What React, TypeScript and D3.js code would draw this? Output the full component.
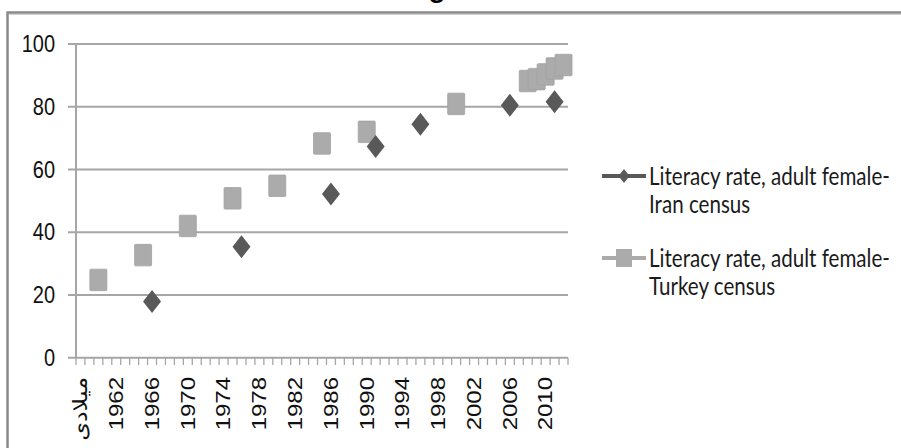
import * as d3 from "d3";

// categories on the x axis (first one is the sheet's header cell)
const categories = [
  "میلادی", "1959", "1960", "1961", "1962", "1963", "1964", "1965", "1966", "1967",
  "1968", "1969", "1970", "1971", "1972", "1973", "1974", "1975", "1976", "1977",
  "1978", "1979", "1980", "1981", "1982", "1983", "1984", "1985", "1986", "1987",
  "1988", "1989", "1990", "1991", "1992", "1993", "1994", "1995", "1996", "1997",
  "1998", "1999", "2000", "2001", "2002", "2003", "2004", "2005", "2006", "2007",
  "2008", "2009", "2010", "2011", "2012",
];
const xTickLabels = [
  "میلادی", "1962", "1966", "1970", "1974", "1978", "1982",
  "1986", "1990", "1994", "1998", "2002", "2006", "2010",
];
const yTicks = [0, 20, 40, 60, 80, 100];

const iranYears = ["1966", "1976", "1986", "1991", "1996", "2006", "2011"];
const iranValues = [17.9, 35.4, 52.2, 67.3, 74.4, 80.5, 81.6];

const turkeyYears = [
  "1960", "1965", "1970", "1975", "1980", "1985", "1990", "2000",
  "2008", "2009", "2010", "2011", "2012",
];
const turkeyValues = [24.8, 32.7, 42.0, 50.8, 54.8, 68.3, 72.0, 80.9, 88.2, 88.8, 90.3, 92.2, 93.3];

const legendLines = [
  ["Literacy rate, adult female-", "Iran  census"],
  ["Literacy rate, adult female-", "Turkey census"],
];

const W = 901;
const H = 448;
const left = 76;
const right = 568;
const top = 44;
const bottom = 357.7;

const dark = "#595959";
const light = "#ababab";
const grid = "#a6a6a6";
const axisFont = "Liberation Sans, Arial, DejaVu Sans, sans-serif";
const legendFont = "Lato, Open Sans, sans-serif";

const diamond = "M0,-11.5L9,0L0,11.5L-9,0Z";

export default function App() {
  const x = d3.scaleBand(categories, [left, right]).padding(0);
  const cx = (c: string) => (x(c) ?? 0) + x.bandwidth() / 2;
  const y = d3.scaleLinear([0, 100], [bottom, top]);

  return (
    <div style={{ position: "fixed", left: 0, top: 0 }}>
      <svg width={W} height={H} style={{ display: "block", background: "#fff" }}>
        {/* title sits above the crop, only a descender shows */}
        <text x={437} y={-3} textAnchor="middle" fontFamily={axisFont} fontSize={28} fontWeight="bold" fill="#000">
          g
        </text>

        {/* outer chart frame */}
        <rect x={7.5} y={12.5} width={1000} height={1000} fill="none" stroke="#8a8a8a" strokeWidth={2.5} />
        <line x1={9} x2={W} y1={14.5} y2={14.5} stroke="#d0d0d0" strokeWidth={1} />

        {/* gridlines + y ticks */}
        {yTicks.map((t) => (
          <g key={t}>
            <line x1={68} x2={right} y1={y(t)} y2={y(t)} stroke={grid} strokeWidth={2} />
            <text
              transform={`translate(55,${y(t)}) scale(1,1.2)`}
              textAnchor="end"
              dominantBaseline="central"
              fontFamily={axisFont}
              fontSize={20}
              fill="#111"
            >
              {t}
            </text>
          </g>
        ))}

        {/* y axis line */}
        <line x1={left} x2={left} y1={top} y2={bottom} stroke={grid} strokeWidth={2} />

        {/* x axis ticks at category boundaries */}
        {categories.map((c) => (
          <line key={c} x1={x(c)} x2={x(c)} y1={bottom} y2={365} stroke={grid} strokeWidth={1.3} />
        ))}
        <line x1={right} x2={right} y1={bottom} y2={365} stroke={grid} strokeWidth={1.3} />

        {xTickLabels.map((c) => (
          <text
            key={c}
            transform={`translate(${cx(c)},377) scale(1,1.2) rotate(-90)`}
            textAnchor="end"
            dominantBaseline="central"
            fontFamily={axisFont}
            fontSize={20}
            fill="#111"
          >
            {c}
          </text>
        ))}

        {/* Turkey squares */}
        {turkeyYears.map((c, i) => (
          <rect
            key={c}
            x={cx(c) - 8.5}
            y={y(turkeyValues[i]) - 10.75}
            width={17}
            height={21.5}
            rx={1}
            fill={light}
            stroke="#a2a2a2"
            strokeWidth={0.8}
          />
        ))}

        {/* Iran diamonds */}
        {iranYears.map((c, i) => (
          <path key={c} d={diamond} transform={`translate(${cx(c)},${y(iranValues[i])})`} fill={dark} />
        ))}

        {/* legend */}
        <g>
          <line x1={602} x2={646} y1={176} y2={176} stroke={dark} strokeWidth={4} />
          <path d="M0,-7L5.5,0L0,7L-5.5,0Z" transform="translate(624,176)" fill={dark} />
          <line x1={602} x2={646} y1={258} y2={258} stroke={light} strokeWidth={4} />
          <rect x={616} y={249} width={16} height={18} fill={light} />
          {legendLines.map((lines, k) =>
            lines.map((s, j) => (
              <text
                key={`${k}-${j}`}
                transform={`translate(649,${(k === 0 ? 185 : 267) + j * 28}) scale(0.98,1.2)`}
                fontFamily={legendFont}
                fontSize={21}
                fill="#1a1a1a"
              >
                {s}
              </text>
            ))
          )}
        </g>
      </svg>
    </div>
  );
}
